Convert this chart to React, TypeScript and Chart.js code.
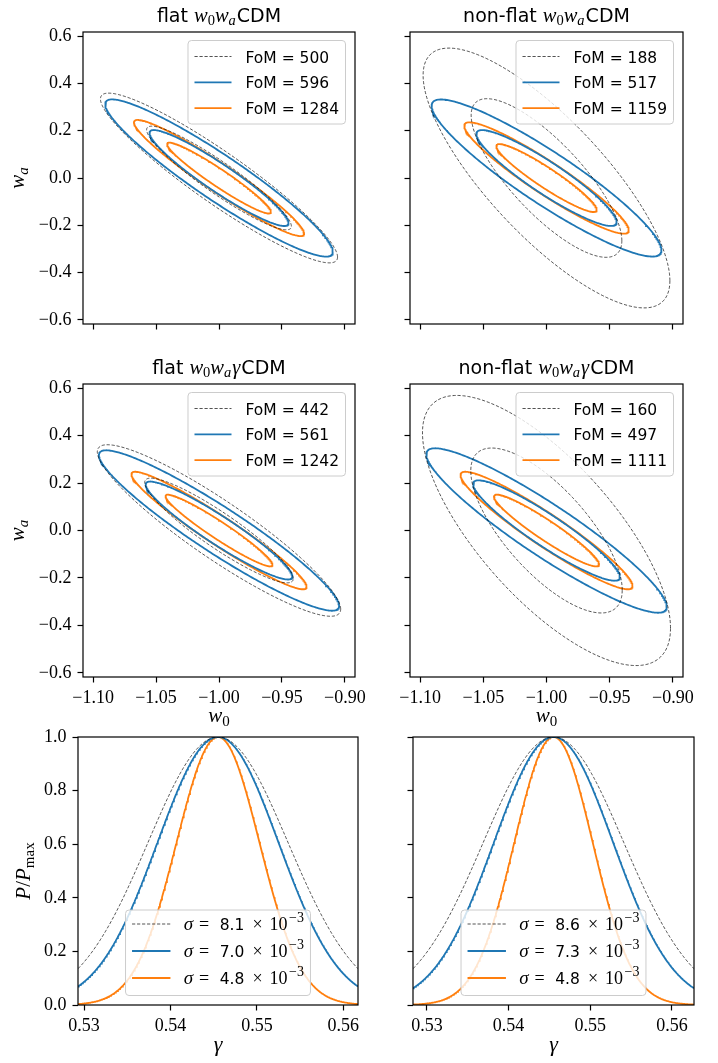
import React, { useEffect, useRef } from "react";
import { Chart, registerables } from "chart.js";

Chart.register(...registerables);

// ---------------- data ----------------
const W0_FIDUCIAL = -1.0;
const WA_FIDUCIAL = 0.0;
const CONTOUR_DELTA_CHI2 = [2.3, 6.17]; // 68.3% and 95.4% 2-D contours
const W0_TICKS = [-1.1, -1.05, -1.0, -0.95, -0.9];
const WA_TICKS = [-0.6, -0.4, -0.2, 0.0, 0.2, 0.4, 0.6];
const W0_LIMITS = [-1.108, -0.892];
const WA_LIMITS = [-0.617, 0.617];

// [dashed, blue, orange]
const FLAT_W0WA_FOM = [500, 596, 1284];
const FLAT_W0WA_SIGMA_W0 = [0.0379, 0.0364, 0.0272];
const FLAT_W0WA_SIGMA_WA = [0.1444, 0.1337, 0.0988];

const NONFLAT_W0WA_FOM = [188, 517, 1159];
const NONFLAT_W0WA_SIGMA_W0 = [0.0393, 0.0366, 0.0262];
const NONFLAT_W0WA_SIGMA_WA = [0.221, 0.1336, 0.0947];

const FLAT_W0WAG_FOM = [442, 561, 1242];
const FLAT_W0WAG_SIGMA_W0 = [0.0389, 0.0384, 0.028];
const FLAT_W0WAG_SIGMA_WA = [0.1454, 0.136, 0.0996];

const NONFLAT_W0WAG_FOM = [160, 497, 1111];
const NONFLAT_W0WAG_SIGMA_W0 = [0.0395, 0.0383, 0.0274];
const NONFLAT_W0WAG_SIGMA_WA = [0.229, 0.1394, 0.0996];

const GAMMA_FIDUCIAL = 0.5455;
const GAMMA_TICKS = [0.53, 0.54, 0.55, 0.56];
const PROB_TICKS = [0, 0.2, 0.4, 0.6, 0.8, 1.0];
const PROB_LIMITS = [0, 1];
const FLAT_GAMMA_SIGMA = [8.1e-3, 7.0e-3, 4.8e-3];
const NONFLAT_GAMMA_SIGMA = [8.6e-3, 7.3e-3, 4.8e-3];

// ---------------- styles ----------------
type Style = { color: string; width: number; dash: number[] };
const SERIES_STYLES: Style[] = [
  { color: "rgba(0,0,0,0.85)", width: 0.8, dash: [3.2, 1.8] },
  { color: "#1f77b4", width: 1.8, dash: [] },
  { color: "#ff7f0e", width: 1.8, dash: [] },
];

const SANS = '"DejaVu Sans", sans-serif';
const SERIF = '"Liberation Serif", serif';
const mi = (px: number) => `italic ${px}px ${SERIF}`;
const rm = (px: number) => `${px}px ${SERIF}`;
const sf = (px: number) => `${px}px ${SANS}`;

const ML = 75;
const MR = 20;
const MT = 30;
const MB = 55;

type Seg = { t: string; f: string; dy?: number; gap?: number };

function segWidth(ctx: CanvasRenderingContext2D, segs: Seg[]) {
  let w = 0;
  segs.forEach((s, i) => {
    ctx.font = s.f;
    w += ctx.measureText(s.t).width;
    if (i < segs.length - 1) w += s.gap || 0;
  });
  return w;
}

function drawSegs(ctx: CanvasRenderingContext2D, segs: Seg[], x: number, y: number) {
  let cx = x;
  segs.forEach((s) => {
    ctx.font = s.f;
    ctx.fillText(s.t, cx, y + (s.dy || 0));
    cx += ctx.measureText(s.t).width + (s.gap || 0);
  });
}

type LegendRow = { style: Style; segs: Seg[] };
type LegendSpec = {
  mode: "ur" | "lc";
  rows: LegendRow[];
  handle: number;
  gap: number;
  height: number;
  first: number;
  step: number;
  baseline: number;
};

type PanelSpec = {
  rect: [number, number, number, number];
  xLim: number[];
  yLim: number[];
  xTicks: number[];
  yTicks: number[];
  xDec: number;
  yDec: number;
  showX: boolean;
  showY: boolean;
  datasets: any[];
  title?: Seg[];
  xLabel?: Seg[];
  xLabelOffset?: number;
  yLabel?: Seg[];
  yLabelOffset?: number;
  legend: LegendSpec;
};

function ellipseDataset(sx: number, sy: number, fom: number, dchi2: number, style: Style) {
  const s = 1 / (fom * sx * sy); // sqrt(1 - rho^2) since FoM = 1/sqrt(det C)
  const rho = -Math.sqrt(Math.max(0, 1 - s * s));
  const k = Math.sqrt(dchi2);
  const data: { x: number; y: number }[] = [];
  const N = 360;
  for (let i = 0; i <= N; i++) {
    const t = (2 * Math.PI * i) / N;
    data.push({
      x: W0_FIDUCIAL + k * sx * Math.cos(t),
      y: WA_FIDUCIAL + k * sy * (rho * Math.cos(t) + s * Math.sin(t)),
    });
  }
  return {
    data,
    showLine: true,
    borderColor: style.color,
    borderWidth: style.width,
    borderDash: style.dash,
    pointRadius: 0,
    fill: false,
    tension: 0,
  };
}

function contourDatasets(fom: number[], sw0: number[], swa: number[]) {
  const ds: any[] = [];
  for (let j = 0; j < fom.length; j++) {
    for (const d of CONTOUR_DELTA_CHI2) ds.push(ellipseDataset(sw0[j], swa[j], fom[j], d, SERIES_STYLES[j]));
  }
  return ds;
}

function gammaLimits(sigmas: number[]) {
  const half = 2 * sigmas[0];
  return [GAMMA_FIDUCIAL - half, GAMMA_FIDUCIAL + half];
}

function gaussDatasets(sigmas: number[]) {
  const [lo, hi] = gammaLimits(sigmas);
  const N = 400;
  return sigmas.map((sg, j) => {
    const data: { x: number; y: number }[] = [];
    for (let i = 0; i <= N; i++) {
      const x = lo + ((hi - lo) * i) / N;
      data.push({ x, y: Math.exp(-((x - GAMMA_FIDUCIAL) ** 2) / (2 * sg * sg)) });
    }
    const st = SERIES_STYLES[j];
    return {
      data,
      showLine: true,
      borderColor: st.color,
      borderWidth: st.width,
      borderDash: st.dash,
      pointRadius: 0,
      fill: false,
      tension: 0,
    };
  });
}

function titleSegs(prefix: string, gamma: boolean): Seg[] {
  const segs: Seg[] = [
    { t: prefix + " ", f: sf(19) },
    { t: "w", f: mi(20.5) },
    { t: "0", f: rm(14.5), dy: 3.5 },
    { t: "w", f: mi(20.5) },
    { t: "a", f: mi(14.5), dy: 3.5, gap: 1 },
  ];
  if (gamma) segs.push({ t: "\u03b3", f: mi(20.5), gap: 1 });
  segs.push({ t: "CDM", f: sf(19) });
  return segs;
}

const WA_LABEL: Seg[] = [
  { t: "w", f: mi(21) },
  { t: "a", f: mi(15), dy: 4 },
];
const W0_LABEL: Seg[] = [
  { t: "w", f: mi(21) },
  { t: "0", f: rm(15), dy: 4 },
];
const P_LABEL: Seg[] = [
  { t: "P", f: mi(21) },
  { t: "/", f: rm(21) },
  { t: "P", f: mi(21) },
  { t: "max", f: rm(15), dy: 4 },
];
const GAMMA_LABEL: Seg[] = [{ t: "\u03b3", f: mi(22) }];

function fomLegend(fom: number[]): LegendSpec {
  return {
    mode: "ur",
    rows: fom.map((v, j) => ({ style: SERIES_STYLES[j], segs: [{ t: `FoM = ${v}`, f: sf(15.5) }] })),
    handle: 37,
    gap: 14,
    height: 83.5,
    first: 16,
    step: 25.8,
    baseline: 6,
  };
}

function sigmaLegend(sigmas: number[]): LegendSpec {
  return {
    mode: "lc",
    rows: sigmas.map((sg, j) => ({
      style: SERIES_STYLES[j],
      segs: [
        { t: "\u03c3", f: mi(19), gap: 6 },
        { t: "=", f: rm(18), gap: 10.5 },
        { t: (sg * 1000).toFixed(1), f: sf(15.5), gap: 8 },
        { t: "\u00d7", f: rm(18), gap: 7 },
        { t: "10", f: rm(18), gap: 1.5 },
        { t: "\u22123", f: rm(14), dy: -7.5 },
      ],
    })),
    handle: 38.4,
    gap: 13.3,
    height: 85.5,
    first: 14,
    step: 27,
    baseline: 5.5,
  };
}

const PANELS: PanelSpec[] = [
  {
    rect: [83, 32, 355, 324],
    xLim: W0_LIMITS, yLim: WA_LIMITS, xTicks: W0_TICKS, yTicks: WA_TICKS, xDec: 2, yDec: 1,
    showX: false, showY: true,
    datasets: contourDatasets(FLAT_W0WA_FOM, FLAT_W0WA_SIGMA_W0, FLAT_W0WA_SIGMA_WA),
    title: titleSegs("flat", false),
    yLabel: WA_LABEL, yLabelOffset: 59,
    legend: fomLegend(FLAT_W0WA_FOM),
  },
  {
    rect: [410, 32, 683, 324],
    xLim: W0_LIMITS, yLim: WA_LIMITS, xTicks: W0_TICKS, yTicks: WA_TICKS, xDec: 2, yDec: 1,
    showX: false, showY: false,
    datasets: contourDatasets(NONFLAT_W0WA_FOM, NONFLAT_W0WA_SIGMA_W0, NONFLAT_W0WA_SIGMA_WA),
    title: titleSegs("non-flat", false),
    legend: fomLegend(NONFLAT_W0WA_FOM),
  },
  {
    rect: [83, 384, 355, 677],
    xLim: W0_LIMITS, yLim: WA_LIMITS, xTicks: W0_TICKS, yTicks: WA_TICKS, xDec: 2, yDec: 1,
    showX: true, showY: true,
    datasets: contourDatasets(FLAT_W0WAG_FOM, FLAT_W0WAG_SIGMA_W0, FLAT_W0WAG_SIGMA_WA),
    title: titleSegs("flat", true),
    yLabel: WA_LABEL, yLabelOffset: 59,
    xLabel: W0_LABEL, xLabelOffset: 45,
    legend: fomLegend(FLAT_W0WAG_FOM),
  },
  {
    rect: [410, 384, 683, 677],
    xLim: W0_LIMITS, yLim: WA_LIMITS, xTicks: W0_TICKS, yTicks: WA_TICKS, xDec: 2, yDec: 1,
    showX: true, showY: false,
    datasets: contourDatasets(NONFLAT_W0WAG_FOM, NONFLAT_W0WAG_SIGMA_W0, NONFLAT_W0WAG_SIGMA_WA),
    title: titleSegs("non-flat", true),
    xLabel: W0_LABEL, xLabelOffset: 45,
    legend: fomLegend(NONFLAT_W0WAG_FOM),
  },
  {
    rect: [78, 737, 358, 1005],
    xLim: gammaLimits(FLAT_GAMMA_SIGMA), yLim: PROB_LIMITS, xTicks: GAMMA_TICKS, yTicks: PROB_TICKS, xDec: 2, yDec: 1,
    showX: true, showY: true,
    datasets: gaussDatasets(FLAT_GAMMA_SIGMA),
    yLabel: P_LABEL, yLabelOffset: 48,
    xLabel: GAMMA_LABEL, xLabelOffset: 46,
    legend: sigmaLegend(FLAT_GAMMA_SIGMA),
  },
  {
    rect: [413, 737, 694, 1005],
    xLim: gammaLimits(NONFLAT_GAMMA_SIGMA), yLim: PROB_LIMITS, xTicks: GAMMA_TICKS, yTicks: PROB_TICKS, xDec: 2, yDec: 1,
    showX: true, showY: false,
    datasets: gaussDatasets(NONFLAT_GAMMA_SIGMA),
    xLabel: GAMMA_LABEL, xLabelOffset: 46,
    legend: sigmaLegend(NONFLAT_GAMMA_SIGMA),
  },
];

function fmt(v: number, dec: number) {
  const s = Math.abs(v).toFixed(dec);
  return (v < -1e-9 ? "\u2212" : "") + s;
}

function axis(lim: number[], ticks: number[], dec: number, show: boolean, isX: boolean) {
  return {
    type: "linear",
    position: isX ? "bottom" : "left",
    min: lim[0],
    max: lim[1],
    afterBuildTicks: (s: any) => {
      s.ticks = ticks.map((v) => ({ value: v }));
    },
    afterFit: (s: any) => {
      if (isX) s.height = MB;
      else s.width = ML;
    },
    ticks: {
      autoSkip: false,
      maxRotation: 0,
      minRotation: 0,
      color: "#000",
      font: { family: SERIF, size: 18 },
      padding: isX ? 4.5 : 6,
      callback: (v: any) => (show ? fmt(Number(v), dec) : ""),
    },
    grid: {
      display: true,
      drawOnChartArea: false,
      drawTicks: true,
      tickLength: 5.5,
      tickWidth: 1.2,
      tickColor: "#000",
    },
    border: { display: false },
  };
}

function drawLegend(ctx: CanvasRenderingContext2D, a: any, lg: LegendSpec) {
  ctx.save();
  let textW = 0;
  lg.rows.forEach((r) => {
    textW = Math.max(textW, segWidth(ctx, r.segs));
  });
  const padL = 6.5;
  const padR = 6.5;
  const w = padL + lg.handle + lg.gap + textW + padR;
  const h = lg.height;
  const x = lg.mode === "ur" ? a.right - 9.5 - w : (a.left + a.right) / 2 - w / 2;
  const y = lg.mode === "ur" ? a.top + 8.5 : a.bottom - 9.5 - h;
  const rad = 3.5;
  ctx.beginPath();
  ctx.moveTo(x + rad, y);
  ctx.lineTo(x + w - rad, y);
  ctx.arcTo(x + w, y, x + w, y + rad, rad);
  ctx.lineTo(x + w, y + h - rad);
  ctx.arcTo(x + w, y + h, x + w - rad, y + h, rad);
  ctx.lineTo(x + rad, y + h);
  ctx.arcTo(x, y + h, x, y + h - rad, rad);
  ctx.lineTo(x, y + rad);
  ctx.arcTo(x, y, x + rad, y, rad);
  ctx.closePath();
  ctx.fillStyle = "rgba(255,255,255,0.8)";
  ctx.fill();
  ctx.strokeStyle = "#cccccc";
  ctx.lineWidth = 1;
  ctx.setLineDash([]);
  ctx.stroke();
  lg.rows.forEach((r, i) => {
    const ry = y + lg.first + i * lg.step;
    ctx.beginPath();
    ctx.strokeStyle = r.style.color;
    ctx.lineWidth = r.style.width;
    ctx.setLineDash(r.style.dash);
    ctx.moveTo(x + padL, ry);
    ctx.lineTo(x + padL + lg.handle, ry);
    ctx.stroke();
    ctx.setLineDash([]);
    ctx.fillStyle = "#000";
    ctx.textBaseline = "alphabetic";
    ctx.textAlign = "left";
    drawSegs(ctx, r.segs, x + padL + lg.handle + lg.gap, ry + lg.baseline);
  });
  ctx.restore();
}

function buildConfig(spec: PanelSpec): any {
  const decor = {
    id: "decor",
    afterDraw(chart: any) {
      const ctx: CanvasRenderingContext2D = chart.ctx;
      const a = chart.chartArea;
      ctx.save();
      ctx.strokeStyle = "#000";
      ctx.lineWidth = 1.2;
      ctx.setLineDash([]);
      ctx.strokeRect(a.left, a.top, a.right - a.left, a.bottom - a.top);
      ctx.fillStyle = "#000";
      ctx.textBaseline = "alphabetic";
      ctx.textAlign = "left";
      const cx = (a.left + a.right) / 2;
      if (spec.title) {
        const w = segWidth(ctx, spec.title);
        drawSegs(ctx, spec.title, cx - w / 2, a.top - 10.5);
      }
      if (spec.xLabel) {
        const w = segWidth(ctx, spec.xLabel);
        drawSegs(ctx, spec.xLabel, cx - w / 2, a.bottom + (spec.xLabelOffset || 45));
      }
      if (spec.yLabel) {
        ctx.save();
        ctx.translate(a.left - (spec.yLabelOffset || 59), (a.top + a.bottom) / 2);
        ctx.rotate(-Math.PI / 2);
        const w = segWidth(ctx, spec.yLabel);
        drawSegs(ctx, spec.yLabel, -w / 2, 0);
        ctx.restore();
      }
      ctx.restore();
      drawLegend(ctx, a, spec.legend);
    },
  };
  return {
    type: "scatter",
    data: { datasets: spec.datasets },
    options: {
      animation: false,
      responsive: false,
      maintainAspectRatio: false,
      events: [],
      layout: { padding: { left: 0, right: MR, top: MT, bottom: 0 } },
      plugins: {
        legend: { display: false },
        tooltip: { enabled: false },
        title: { display: false },
      },
      scales: {
        x: axis(spec.xLim, spec.xTicks, spec.xDec, spec.showX, true),
        y: axis(spec.yLim, spec.yTicks, spec.yDec, spec.showY, false),
      },
    },
    plugins: [decor],
  };
}

function Panel({ spec }: { spec: PanelSpec }) {
  const ref = useRef<HTMLCanvasElement | null>(null);
  const [l, t, r, b] = spec.rect;
  const W = r - l + ML + MR;
  const H = b - t + MT + MB;
  useEffect(() => {
    if (!ref.current) return;
    const chart = new Chart(ref.current, buildConfig(spec));
    return () => chart.destroy();
  }, [spec]);
  return (
    <canvas
      ref={ref}
      width={W}
      height={H}
      style={{ position: "absolute", left: l - ML, top: t - MT, width: W, height: H }}
    />
  );
}

export default function App() {
  return (
    <div
      style={{
        position: "absolute",
        left: 0,
        top: 0,
        width: 718,
        height: 1063,
        overflow: "hidden",
        background: "#fff",
      }}
    >
      {PANELS.map((p, i) => (
        <Panel key={i} spec={p} />
      ))}
    </div>
  );
}
